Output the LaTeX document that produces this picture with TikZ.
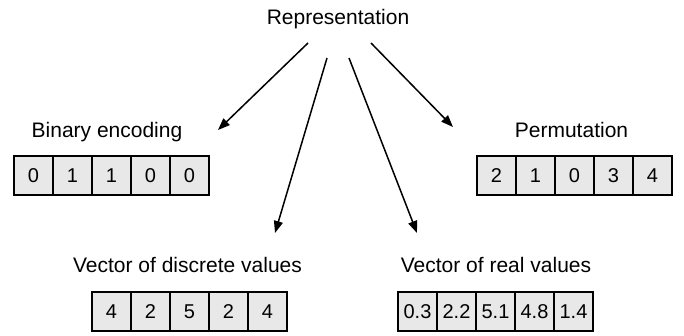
\documentclass[tikz,border=0pt]{standalone}
\usepackage{fontspec}
\setmainfont{Liberation Sans}
\usetikzlibrary{arrows.meta}
\tikzset{
  lbl/.style={anchor=base, inner sep=0pt, font=\fontsize{21}{25}\selectfont},
  cell/.style={draw=black, line width=1.3pt, fill=black!9, minimum width=39pt, minimum height=39pt, inner sep=0pt, font=\fontsize{20}{24}\selectfont},
  arr/.style={line width=1.5pt, -{Triangle[length=12pt,width=9pt]}}
}
\begin{document}
\begin{tikzpicture}[x=1pt,y=-1pt]
\useasboundingbox (0,0) rectangle (684,335);
% labels
\node[lbl] (rep) at (338,24) {Representation};
\node[lbl] (binlbl) at (107,137) {Binary encoding};
\node[lbl] (permlbl) at (571.5,137) {Permutation};
\node[lbl] (disclbl) at (187.5,272) {Vector of discrete values};
\node[lbl] (reallbl) at (496,272) {Vector of real values};
% cells
\foreach \v [count=\i] in {0,1,1,0,0}
  \node[cell] (bin\i) at ({14+19.5+39*(\i-1)},175.5) {\v};
\foreach \v [count=\i] in {2,1,0,3,4}
  \node[cell] (perm\i) at ({477+19.5+39*(\i-1)},175.5) {\v};
\foreach \v [count=\i] in {4,2,5,2,4}
  \node[cell] (disc\i) at ({92+19.5+39*(\i-1)},311.5) {\v};
\foreach \v [count=\i] in {0.3,2.2,5.1,4.8,1.4}
  \node[cell] (real\i) at ({398+19.5+39*(\i-1)},311.5) {\v};
% arrows
\coordinate (s1) at (308,43);
\coordinate (e1) at (218,130);
\coordinate (s2) at (327,58);
\coordinate (e2) at (275,233);
\coordinate (s3) at (349,58);
\coordinate (e3) at (417,233);
\coordinate (s4) at (371,43);
\coordinate (e4) at (453,127);
\draw[arr] (s1) -- (e1);
\draw[arr] (s2) -- (e2);
\draw[arr] (s3) -- (e3);
\draw[arr] (s4) -- (e4);
\end{tikzpicture}
\end{document}
